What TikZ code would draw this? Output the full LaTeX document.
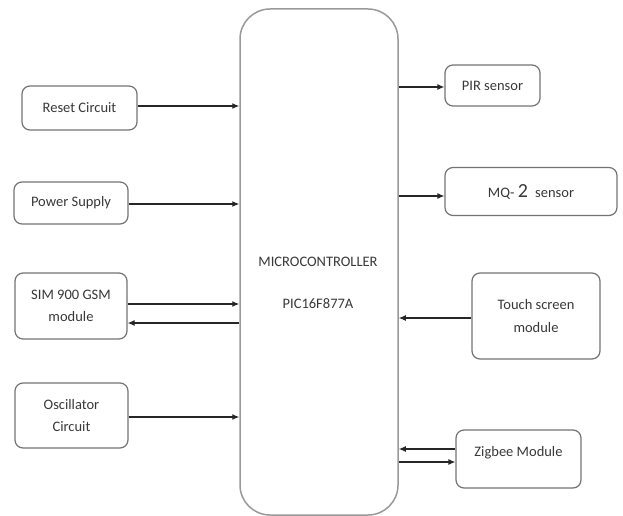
\documentclass[tikz,border=0pt]{standalone}
\usepackage{fontspec}
\setmainfont{Carlito}
\usetikzlibrary{arrows.meta}

\begin{document}
\begin{tikzpicture}[
    x=1pt, y=-1pt,
    font=\fontsize{14.5}{17.5}\selectfont,
    block/.style={
      draw=black!55,
      line width=1.2pt,
      rounded corners=8pt,
      text=black!78,
      align=center,
      inner sep=0pt
    },
    link/.style={
      -{Latex[length=7pt,width=6pt]},
      line width=1.2pt,
      draw=black!85
    }
  ]
  \useasboundingbox (0,0) rectangle (623,516);

  \node[
    draw=black!40,
    line width=1.5pt,
    rounded corners=30pt,
    minimum width=158pt,
    minimum height=506pt
  ] (mcu) at (319, 262) {};
  \node[text=black!78, align=center] (mcuname) at (318, 283)
    {MICROCONTROLLER\\[25pt]PIC16F877A};

  % left side
  \node[block, minimum width=115pt, minimum height=44pt] (reset) at (79.5, 108) {Reset Circuit};
  \node[block, minimum width=114pt, minimum height=42pt] (power) at (71, 203) {Power Supply};
  \node[block, minimum width=112pt, minimum height=66pt] (sim) at (71, 306) {SIM 900 GSM\\[5pt]module};
  \node[block, minimum width=113pt, minimum height=65pt] (osc) at (71.5, 415.5) {Oscillator\\[5pt]Circuit};

  % right side
  \node[block, minimum width=95pt, minimum height=41pt] (pir) at (492.5, 85.5) {PIR sensor};
  \node[block, minimum width=172pt, minimum height=48pt] (mq) at (531, 191.5)
    {MQ- {\fontsize{20}{20}\selectfont 2}\enspace sensor};
  \node[block, minimum width=128pt, minimum height=86pt] (touch) at (536, 316) {Touch screen\\[5pt]module};
  \node[block, minimum width=125pt, minimum height=58pt, text depth=15pt] (zigbee) at (518.5, 459) {Zigbee Module};

  \draw[link] (reset.east |- 0,106) -- (mcu.west |- 0,106);
  \draw[link] (power.east |- 0,204) -- (mcu.west |- 0,204);
  \draw[link] (sim.east |- 0,304) -- (mcu.west |- 0,304);
  \draw[link] (mcu.west |- 0,323) -- (sim.east |- 0,323);
  \draw[link] (osc.east |- 0,417) -- (mcu.west |- 0,417);

  \draw[link] (mcu.east |- 0,87) -- (pir.west |- 0,87);
  \draw[link] (mcu.east |- 0,196) -- (mq.west |- 0,196);
  \draw[link] (touch.west |- 0,318) -- (mcu.east |- 0,318);
  \draw[link] (zigbee.west |- 0,449) -- (mcu.east |- 0,449);
  \draw[link] (mcu.east |- 0,462) -- (zigbee.west |- 0,462);
\end{tikzpicture}
\end{document}
